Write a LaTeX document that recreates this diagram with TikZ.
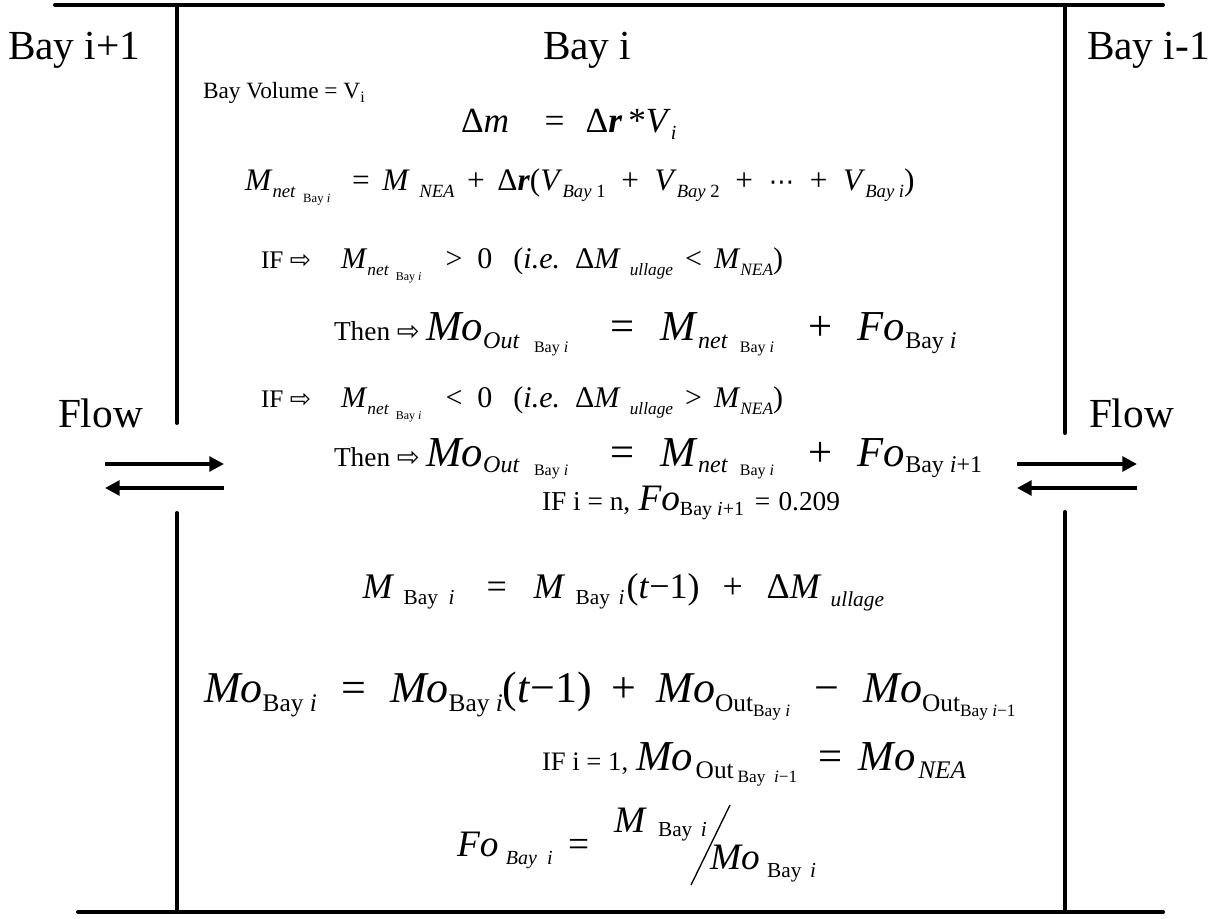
\documentclass[tikz,border=0pt]{standalone}
\usepackage{fontspec}
\setmainfont{Liberation Serif}
\newfontfamily\dvs{DejaVu Sans}
\usetikzlibrary{arrows.meta}
\newcommand\fs[1]{\fontsize{#1}{#1}\selectfont}
\newcommand\dn[3]{\raisebox{-#1}{\fs{#2}#3}}
\newcommand\I[1]{\textit{#1}}
\newcommand\BI[1]{\textbf{\textit{#1}}}
\newcommand\ra{{\dvs ⇨}}
\newdimen\pxu \pxu=0.75pt
\newcommand\at[2]{\rlap{\hspace{#1\pxu}#2}}
\begin{document}
\begin{tikzpicture}[x=0.75pt,y=-0.75pt,
  wall/.style={line width=3pt,line cap=round},
  flowarrow/.style={line width=3pt,-{Triangle[length=11pt,width=11pt]}},
  eq/.style={anchor=base west,inner sep=0pt,outer sep=0pt},
  baylabel/.style={eq,font=\fs{31}},
  slashline/.style={line width=1pt}]
\useasboundingbox (0,0) rectangle (1220,919);
% walls
\coordinate (tl) at (55,5);
\coordinate (tr) at (1163,5);
\coordinate (bl) at (78,912);
\coordinate (br) at (1163,912);
\coordinate (lw1) at (177,5);
\coordinate (lw2) at (177,423);
\coordinate (lw3) at (177,513);
\coordinate (lw4) at (177,912);
\coordinate (rw1) at (1065,5);
\coordinate (rw2) at (1065,433);
\coordinate (rw3) at (1065,512);
\coordinate (rw4) at (1065,912);
\draw[wall] (tl) -- (tr);
\draw[wall] (bl) -- (br);
\draw[wall] (lw1) -- (lw2);
\draw[wall] (lw3) -- (lw4);
\draw[wall] (rw1) -- (rw2);
\draw[wall] (rw3) -- (rw4);
% flow arrows
\coordinate (la1) at (105,464);
\coordinate (la2) at (224,464);
\coordinate (la3) at (224,488);
\coordinate (la4) at (105,488);
\coordinate (ra1) at (1017,464);
\coordinate (ra2) at (1137,464);
\coordinate (ra3) at (1137,488);
\coordinate (ra4) at (1017,488);
\draw[flowarrow] (la1) -- (la2);
\draw[flowarrow] (la3) -- (la4);
\draw[flowarrow] (ra1) -- (ra2);
\draw[flowarrow] (ra3) -- (ra4);
% labels
\node[baylabel] (bayip) at (8,60) {Bay i+1};
\node[baylabel] (bayi) at (543,60) {Bay i};
\node[baylabel] (bayim) at (1087,60) {Bay i-1};
\node[baylabel] (flowl) at (58,428) {Flow};
\node[baylabel] (flowr) at (1089,428) {Flow};
\node[eq,font=\fs{17.5}] (vol) at (203,99) {Bay Volume = V\dn{3pt}{12}{i}};
% equations
\node[eq,font=\fs{26.5}] (dm) at (461,133) {Δ\I{m}\hspace{1em}=\hspace{0.6em}Δ\BI{r}\,*\I{V}\dn{5pt}{15}{\I{i}}};
\node[eq,font=\fs{23.5}] (mnet) at (245,191) {\I{M}\dn{5pt}{14}{\I{net}\hspace{0.4em}\dn{4pt}{9.5}{Bay\ \I{i}}}\hspace{0.7em}=\hspace{0.4em}\I{M}\hspace{0.3em}\dn{5pt}{14}{\I{NEA}}\hspace{0.4em}+\hspace{0.4em}Δ\BI{r}(\I{V}\dn{5pt}{14}{\I{Bay} 1}\hspace{0.5em}+\hspace{0.5em}\I{V}\dn{5pt}{14}{\I{Bay} 2}\hspace{0.5em}+\hspace{0.5em}{\dvs\fs{19}⋯}\hspace{0.5em}+\hspace{0.5em}\I{V}\dn{5pt}{14}{\I{Bay}\ \I{i}})};
\node[eq,font=\fs{22.5}] (if1) at (261,269) {{\fs{19}IF \ra}\hspace{1em}\I{M}\dn{5pt}{13}{\I{net}\hspace{0.4em}\dn{4pt}{9}{Bay\ \I{i}}}\hspace{0.8em}>\hspace{0.5em}0\hspace{0.7em}(\I{i.e.}\hspace{0.5em}Δ\I{M}\hspace{0.3em}\dn{5pt}{13}{\I{ullage}}\hspace{0.4em}<\hspace{0.4em}\I{M}\dn{5pt}{13}{\I{NEA}})};
\node[eq,font=\fs{32}] (then1) at (334,341) {{\fs{20.5}Then \ra}\hspace{0.15em}\I{Mo}\dn{6pt}{18}{\I{Out}\hspace{0.6em}\dn{3pt}{12}{Bay\ \I{i}}}\hspace{1em}=\hspace{0.6em}\I{M}\dn{6pt}{18}{\I{net}\hspace{0.5em}\dn{3pt}{12}{Bay\ \I{i}}}\hspace{0.8em}+\hspace{0.6em}\I{Fo}\dn{6pt}{18}{Bay\ \I{i}}};
\node[eq,font=\fs{22.5}] (if2) at (261,408) {{\fs{19}IF \ra}\hspace{1em}\I{M}\dn{5pt}{13}{\I{net}\hspace{0.4em}\dn{4pt}{9}{Bay\ \I{i}}}\hspace{0.8em}<\hspace{0.5em}0\hspace{0.7em}(\I{i.e.}\hspace{0.5em}Δ\I{M}\hspace{0.3em}\dn{5pt}{13}{\I{ullage}}\hspace{0.4em}>\hspace{0.4em}\I{M}\dn{5pt}{13}{\I{NEA}})};
\node[eq,font=\fs{32}] (then2) at (334,466) {{\fs{20.5}Then \ra}\hspace{0.15em}\I{Mo}\dn{5pt}{18}{\I{Out}\hspace{0.6em}\dn{2pt}{12}{Bay\ \I{i}}}\hspace{1em}=\hspace{0.6em}\I{M}\dn{5pt}{18}{\I{net}\hspace{0.5em}\dn{2pt}{12}{Bay\ \I{i}}}\hspace{0.8em}+\hspace{0.6em}\I{Fo}\dn{5pt}{18}{Bay\ \I{i}+1}};
\node[eq,font=\fs{20.5}] (ifn) at (542,510) {IF i = n,\hspace{0.3em}{\fs{28}\I{Fo}}\dn{4pt}{15}{Bay\ \I{i}+1}\hspace{0.4em}=\hspace{0.3em}0.209};
\node[eq,font=\fs{27}] (mbay) at (0,598) {\at{362}{\I{M}}\at{403}{\dn{5pt}{16}{Bay\hspace{0.5em}\I{i}}}\at{486}{=}\at{533}{\I{M}}\at{575}{\dn{5pt}{16}{Bay\hspace{0.4em}\I{i}}}\at{626}{(\I{t}−1)}\at{722}{+}\at{766}{Δ\I{M}}\at{830}{\dn{6pt}{16}{\I{ullage}}}};
\node[eq,font=\fs{33}] (mobay) at (204,702) {\I{Mo}\dn{7pt}{19}{Bay\ \I{i}}\hspace{0.55em}=\hspace{0.55em}\I{Mo}\dn{7pt}{19}{Bay\ \I{i}}(\I{t}−1)\hspace{0.45em}+\hspace{0.45em}\I{Mo}\dn{7pt}{19}{Out\dn{4pt}{13}{Bay\ \I{i}}}\hspace{0.55em}−\hspace{0.55em}\I{Mo}\dn{7pt}{19}{Out\dn{4pt}{13}{Bay\ \I{i}−1}}};
\node[eq,font=\fs{20}] (if1b) at (542,770) {IF i = 1,\hspace{0.3em}{\fs{32}\I{Mo}}\hspace{0.1em}\dn{6pt}{19}{Out\hspace{0.15em}\dn{3pt}{13}{Bay\hspace{0.5em}\I{i}−1}}\hspace{0.8em}{\fs{32}=}\hspace{0.6em}{\fs{32}\I{Mo}}\hspace{0.1em}\dn{6pt}{19}{\I{NEA}}};
\node[eq,font=\fs{28}] (fo) at (457,856) {\I{Fo}\hspace{0.2em}\dn{6pt}{15}{\I{Bay}\hspace{0.5em}\I{i}}};
\node[eq,font=\fs{28}] (foeq) at (568,856) {=};
\node[eq,font=\fs{28}] (num) at (614,832) {\I{M}\hspace{0.3em}\dn{3pt}{16}{Bay\hspace{0.4em}\I{i}}};
\node[eq,font=\fs{28}] (den) at (710,869) {\I{Mo}\hspace{0.2em}\dn{6pt}{16}{Bay\hspace{0.4em}\I{i}}};
\coordinate (sl1) at (730,805);
\coordinate (sl2) at (691,885);
\draw[slashline] (sl1) -- (sl2);
\end{tikzpicture}
\end{document}
